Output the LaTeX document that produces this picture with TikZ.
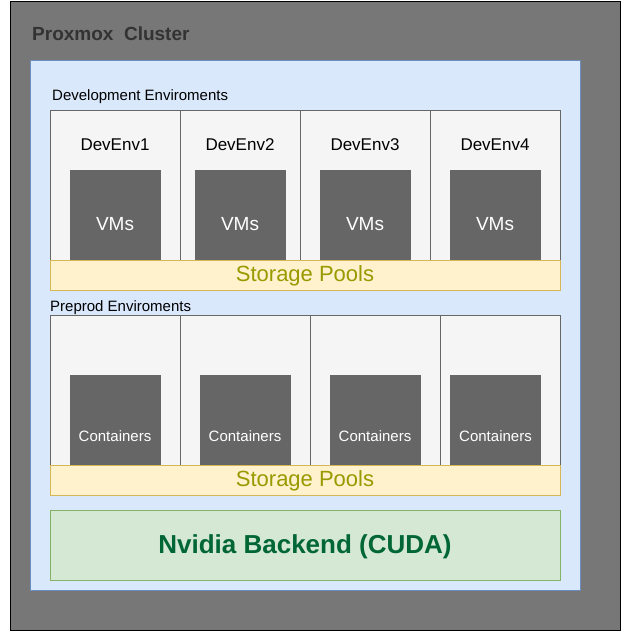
\documentclass[tikz,border=0pt]{standalone}
\usepackage{fontspec}
\setmainfont{Liberation Sans}
\usetikzlibrary{positioning}

\definecolor{clustergray}{HTML}{777777}
\definecolor{titlegray}{HTML}{333333}
\definecolor{bluefill}{HTML}{DAE8FC}
\definecolor{blueline}{HTML}{6C8EBF}
\definecolor{envfill}{HTML}{F5F5F5}
\definecolor{envline}{HTML}{666666}
\definecolor{boxgray}{HTML}{666666}
\definecolor{poolfill}{HTML}{FFF2CC}
\definecolor{poolline}{HTML}{D6B656}
\definecolor{pooltext}{HTML}{999900}
\definecolor{cudafill}{HTML}{D5E8D4}
\definecolor{cudaline}{HTML}{82B366}
\definecolor{cudatext}{HTML}{006633}

\tikzset{
  env/.style={draw=envline, fill=envfill, minimum height=150pt, inner sep=0pt, outer sep=0pt},
  envname/.style={font=\fontsize{17pt}{20pt}\selectfont, inner sep=0pt},
  vm/.style={fill=boxgray, text=white, font=\fontsize{19pt}{22pt}\selectfont,
    minimum width=91pt, inner sep=0pt, text height=60.8pt, text depth=29.2pt},
  ct/.style={fill=boxgray, text=white, font=\fontsize{15pt}{18pt}\selectfont,
    minimum width=91pt, inner sep=0pt, text height=66.4pt, text depth=23.6pt},
  pool/.style={draw=poolline, fill=poolfill, text=pooltext, font=\fontsize{22pt}{26pt}\selectfont,
    minimum width=510pt, minimum height=30pt, inner sep=0pt, outer sep=0pt,
    text height=15.75pt, text depth=2pt},
  group/.style={font=\fontsize{15pt}{18pt}\selectfont, inner sep=0pt, anchor=base west}
}

\begin{document}
\begin{tikzpicture}[x=1pt, y=-1pt]
    \useasboundingbox (0,0) rectangle (621,631);
    \node[draw=black, fill=clustergray, minimum width=610pt, minimum height=629pt, inner sep=0pt](proxmox) at (315,315.5) {};
    \node[font=\bfseries\fontsize{19pt}{22pt}\selectfont, text=titlegray, inner sep=0pt, anchor=base west](title) at (32,40.5) {Proxmox\ \ Cluster};
    \node[draw=blueline, fill=bluefill, minimum width=550pt, minimum height=530pt, inner sep=0pt](cluster) at (305,325) {};
    % development
    \node[group](devlabel) at (52,101) {Development Enviroments};
    \node[env, minimum width=130pt, anchor=north west](dev1) at (50,110) {};
    \node[env, minimum width=120pt, right=0pt of dev1](dev2) {};
    \node[env, minimum width=130pt, right=0pt of dev2](dev3) {};
    \node[env, minimum width=130pt, right=0pt of dev3](dev4) {};
    \node[envname, below=28.5pt of dev1.north](devname1) {DevEnv1};
    \node[envname, below=28.5pt of dev2.north](devname2) {DevEnv2};
    \node[envname, below=28.5pt of dev3.north](devname3) {DevEnv3};
    \node[envname, below=28.5pt of dev4.north](devname4) {DevEnv4};
    \node[vm, above=0pt of dev1.south](vm1) {VMs};
    \node[vm, above=0pt of dev2.south](vm2) {VMs};
    \node[vm, above=0pt of dev3.south](vm3) {VMs};
    \node[vm, above=0pt of dev4.south](vm4) {VMs};
    \node[pool, below right=0pt of dev1.south west](pool1) {Storage Pools};
    % preprod
    \node[group](prelabel) at (50,311) {Preprod Enviroments};
    \node[env, minimum width=130pt, anchor=north west](pre1) at (50,315) {};
    \node[env, minimum width=130pt, right=0pt of pre1](pre2) {};
    \node[env, minimum width=130pt, right=0pt of pre2](pre3) {};
    \node[env, minimum width=120pt, right=0pt of pre3](pre4) {};
    \node[ct, above=0pt of pre1.south](ct1) {Containers};
    \node[ct, above=0pt of pre2.south](ct2) {Containers};
    \node[ct, above=0pt of pre3.south](ct3) {Containers};
    \node[ct, above=0pt of pre4.south, xshift=-4.5pt](ct4) {Containers};
    \node[pool, below right=0pt of pre1.south west](pool2) {Storage Pools};
    % backend
    \node[draw=cudaline, fill=cudafill, text=cudatext, font=\bfseries\fontsize{26pt}{30pt}\selectfont,
          minimum width=510pt, minimum height=70pt, inner sep=0pt, text height=18.6pt, text depth=2pt,
          below=15pt of pool2](cuda) {Nvidia Backend (CUDA)};
\end{tikzpicture}
\end{document}
